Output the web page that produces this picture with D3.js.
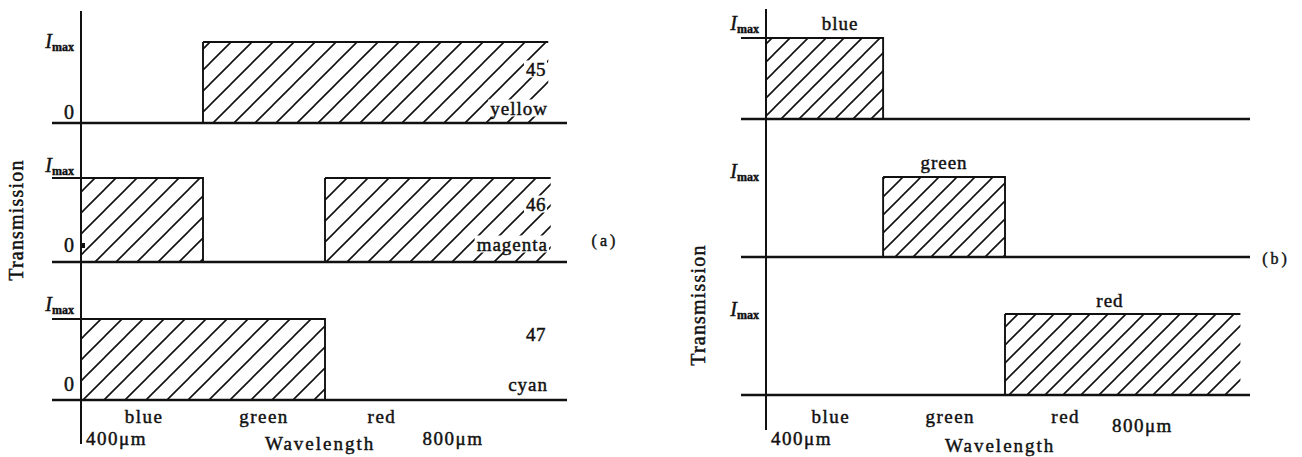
<!DOCTYPE html>
<html>
<head>
<meta charset="utf-8">
<script src="https://cdn.jsdelivr.net/npm/d3@7"></script>
<style>
  body { margin: 0; background: #fff; }
  text { font-family: "Liberation Serif", "Times New Roman", serif; fill: #111; }
</style>
</head>
<body>
<svg id="chart" width="1302" height="457"></svg>
<script>
// wavelength bands (x axis, in band units from 400)
const bands = ['blue', 'green', 'red'];
const tickLabels = ['400μm', '800μm'];
const axisTitleX = 'Wavelength';
const axisTitleY = 'Transmission';
const levels = ['0', 'Imax'];

// (a) subtractive filters, spans where transmission = Imax
const filtersA = ['yellow', 'magenta', 'cyan'];
const figNumsA = ['45', '46', '47'];
const spansA = [[[1, 3.83]], [[0, 1], [2, 3.85]], [[0, 2]]];

// (b) primary filters
const filtersB = ['blue', 'green', 'red'];
const spansB = [[[0, 0.98]], [[0.98, 2]], [[2, 3.97]]];

const svg = d3.select('#chart');
const defs = svg.append('defs');

function hatch(id, s) {
  defs.append('pattern')
    .attr('id', id)
    .attr('patternUnits', 'userSpaceOnUse')
    .attr('width', s).attr('height', s)
    .append('path')
    .attr('d', `M-1,1 L1,-1 M0,${s} L${s},0 M${s - 1},${s + 1} L${s + 1},${s - 1}`)
    .attr('stroke', '#111')
    .attr('stroke-width', 1.6);
}
hatch('hatchA', 21);
hatch('hatchB', 18);

function imaxLabel(g, x, y) {
  const t = g.append('text').attr('x', x).attr('y', y).attr('text-anchor', 'end')
    .style('stroke', '#111').style('stroke-width', 0.4);
  t.append('tspan').text('I').style('font-style', 'italic').style('font-size', '20px');
  t.append('tspan').text('max').attr('dy', 3).style('font-size', '12px').style('font-weight', 'bold');
}

function label(g, x, y, txt, opts = {}) {
  return g.append('text')
    .attr('x', x).attr('y', y)
    .attr('text-anchor', opts.anchor || 'middle')
    .attr('dominant-baseline', 'central')
    .style('font-size', (opts.size || 19) + 'px')
    .style('letter-spacing', (opts.ls == null ? 1.5 : opts.ls) + 'px')
    .style('stroke', '#111').style('stroke-width', 0.45)
    .text(txt);
}

function halo(t) {
  // white box behind the text to break the hatching
  const bb = t.node().getBBox();
  t.node().parentNode.insertBefore(
    d3.create('svg:rect')
      .attr('x', bb.x - 2).attr('y', bb.y + 2)
      .attr('width', bb.width + 3).attr('height', bb.height - 4)
      .attr('fill', '#fff').node(),
    t.node());
}

function drawPanel(cfg) {
  const g = svg.append('g');
  const x = d3.scaleLinear().domain([0, 4]).range([cfg.x0, cfg.x0 + 4 * cfg.unit]);

  cfg.rows.forEach((row, i) => {
    const y = d3.scaleLinear().domain([0, 1]).range([row.base, row.top]);

    // bars
    row.spans.forEach(([a, b]) => {
      g.append('rect')
        .attr('x', x(a)).attr('y', y(1))
        .attr('width', x(b) - x(a)).attr('height', y(0) - y(1))
        .attr('fill', `url(#${cfg.pattern})`);
      const open = b > 3.5;
      const x1 = a === 0 ? x(a) - cfg.tick : x(a);
      let d = `M${x(a)},${y(0)} L${x(a)},${y(1)} M${x1},${y(1)} L${x(b)},${y(1)}`;
      if (!open) d += ` L${x(b)},${y(0)}`;
      g.append('path').attr('d', d).attr('fill', 'none')
        .attr('stroke', '#111').attr('stroke-width', 1.9);
    });

    // baseline
    g.append('line')
      .attr('x1', cfg.x0 - cfg.tick).attr('x2', cfg.baseEnd)
      .attr('y1', y(0)).attr('y2', y(0))
      .attr('stroke', '#111').attr('stroke-width', 2.6);

    imaxLabel(g, cfg.x0 - 7, row.imaxY);
    if (row.zeroY != null) label(g, cfg.x0 - 12, row.zeroY, levels[0], { ls: 0, size: 20 });

    if (row.num) halo(label(g, row.numX, row.numY, row.num, { anchor: 'end', ls: 0.5 }));
    if (row.nameY != null) {
      const t = label(g, row.nameX, row.nameY, row.name, { anchor: row.nameAnchor, ls: 1 });
      if (row.num) halo(t);
    }
  });

  // y axis
  g.append('line')
    .attr('x1', cfg.x0).attr('x2', cfg.x0)
    .attr('y1', cfg.axisTop).attr('y2', cfg.axisBottom)
    .attr('stroke', '#111').attr('stroke-width', 2);

  // band labels
  bands.forEach((b, i) => label(g, x(i + 0.5) + cfg.bandShift[i], cfg.bandY, b));
  label(g, cfg.x0 + 5, 438, tickLabels[0], { anchor: 'start', ls: 1.5 });
  label(g, x(cfg.tick800), cfg.y800, tickLabels[1], { ls: 1.5 });
  label(g, x(1.96), cfg.titleY, axisTitleX, { ls: 2 });

  label(g, 0, 0, axisTitleY, { ls: 1.2, size: 20 })
    .attr('transform', `translate(${cfg.titleYX},${cfg.titleYY}) rotate(-90)`);

  label(g, cfg.tagX, cfg.tagY, cfg.tag, { ls: 3, size: 16 });
  return g;
}

const panelA = drawPanel({
  x0: 81, unit: 122, tick: 29, baseEnd: 567, pattern: 'hatchA',
  axisTop: 11, axisBottom: 444,
  rows: filtersA.map((name, i) => ({
    name, num: figNumsA[i], spans: spansA[i],
    top: [42, 178, 319][i], base: [123, 262, 400][i],
    imaxY: [48, 172, 311][i], zeroY: [112, 245, 384][i],
    numY: [69, 204, 334][i], numX: 546,
    nameX: 548, nameY: [108, 244, 384][i], nameAnchor: 'end'
  })),
  bandShift: [2, 0, -4], bandY: 416, tick800: 3.05, y800: 438, titleY: 443,
  titleYX: 16, titleYY: 220, tag: '(a)', tagX: 605, tagY: 240
});

// small mark at the magenta zero
panelA.append('rect').attr('x', 81).attr('y', 243).attr('width', 4).attr('height', 5).attr('fill', '#111');

drawPanel({
  x0: 766, unit: 119.5, tick: 25, baseEnd: 1250, pattern: 'hatchB',
  axisTop: 9, axisBottom: 430,
  rows: filtersB.map((name, i) => ({
    name, spans: spansB[i],
    top: [38, 177, 314][i], base: [119, 257, 395][i],
    imaxY: [30, 178, 316][i],
    nameX: [840, 944, 1110][i], nameY: [23, 162, 300][i], nameAnchor: 'middle'
  })),
  bandShift: [5, 5, 1], bandY: 416, tick800: 3.15, y800: 425, titleY: 445,
  titleYX: 698, titleYY: 305, tag: '(b)', tagX: 1276, tagY: 258
});
</script>
</body>
</html>
